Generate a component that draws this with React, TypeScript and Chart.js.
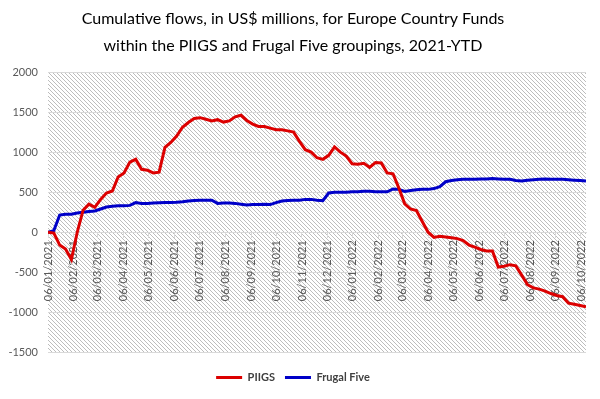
import React, { useEffect, useRef } from 'react';
import { Chart, registerables } from 'chart.js';

Chart.register(...registerables);

const titleLines = [
  'Cumulative flows, in US$ millions, for Europe Country Funds',
  'within the PIIGS and Frugal Five groupings, 2021-YTD',
];

const startDate = '06/01/2021'; // first weekly observation
const seriesNames = ['PIIGS', 'Frugal Five'];

const piigs = [
  0, -10, -160, -210, -340, 0, 275, 350, 310, 410,
  490, 515, 690, 740, 875, 910, 785, 775, 740, 750,
  1060, 1120, 1200, 1310, 1370, 1420, 1430, 1410, 1390, 1405,
  1375, 1390, 1440, 1460, 1395, 1350, 1320, 1320, 1300, 1280,
  1280, 1265, 1250, 1135, 1030, 1000, 930, 910, 960, 1065,
  1000, 950, 855, 850, 860, 810, 870, 865, 740, 730,
  550, 355, 290, 270, 135, 0, -65, -50, -60, -70,
  -80, -105, -160, -185, -215, -235, -235, -435, -425, -405,
  -420, -535, -655, -695, -710, -735, -765, -790, -805, -885,
  -900, -915, -930,
];

const frugalFive = [
  0, 20, 215, 225, 225, 240, 250, 260, 265, 290,
  315, 325, 330, 330, 335, 370, 360, 360, 365, 368,
  370, 372, 375, 380, 390, 395, 398, 400, 400, 360,
  365, 365, 360, 350, 340, 345, 345, 350, 345, 370,
  390, 395, 398, 400, 410, 410, 400, 395, 490, 500,
  500, 500, 505, 505, 510, 510, 505, 505, 505, 540,
  535, 510, 520, 530, 535, 535, 545, 570, 630, 645,
  655, 660, 660, 660, 665, 665, 670, 665, 660, 660,
  645, 640, 650, 655, 660, 665, 660, 660, 660, 655,
  650, 645, 640,
];

const xTickLabels = [
  '06/01/2021', '06/02/2021', '06/03/2021', '06/04/2021', '06/05/2021', '06/06/2021',
  '06/07/2021', '06/08/2021', '06/09/2021', '06/10/2021', '06/11/2021', '06/12/2021',
  '06/01/2022', '06/02/2022', '06/03/2022', '06/04/2022', '06/05/2022', '06/06/2022',
  '06/07/2022', '06/08/2022', '06/09/2022', '06/10/2022',
];

const yMin = -1500;
const yMax = 2000;
const yStep = 500;

function parseDay(s: string): number {
  const [d, m, y] = s.split('/').map(Number);
  return Date.UTC(y, m - 1, d) / 86400000;
}

const day0 = parseDay(startDate);
const weekDays = piigs.map((_, i) => i * 7);
const tickDays = xTickLabels.map((s) => parseDay(s) - day0);
const lastDay = weekDays[weekDays.length - 1];

export default function App() {
  const ref = useRef<HTMLCanvasElement>(null);

  useEffect(() => {
    document.body.style.margin = '0';
    const canvas = ref.current;
    if (!canvas) return;

    const tile = document.createElement('canvas');
    tile.width = 4;
    tile.height = 4;
    const tctx = tile.getContext('2d')!;
    tctx.fillStyle = '#ffffff';
    tctx.fillRect(0, 0, 4, 4);
    tctx.fillStyle = '#bdbdbd';
    for (let i = 0; i < 4; i++) tctx.fillRect(i, i, 1, 1);

    const hatch = {
      id: 'hatch',
      beforeDraw(chart: any) {
        const { ctx, chartArea: a } = chart;
        const pat = ctx.createPattern(tile, 'repeat');
        ctx.save();
        ctx.fillStyle = pat;
        ctx.fillRect(a.left, a.top, a.right - a.left, a.bottom - a.top);
        ctx.restore();
      },
    };

    const tickFont = { family: 'Lato', size: 11 };

    const chart = new Chart(canvas, {
      type: 'line',
      data: {
        datasets: [
          {
            label: seriesNames[0],
            data: piigs.map((v, i) => ({ x: weekDays[i], y: v })),
            borderColor: '#DC0000',
            backgroundColor: '#DC0000',
            borderWidth: 3,
            pointRadius: 0,
            tension: 0,
          },
          {
            label: seriesNames[1],
            data: frugalFive.map((v, i) => ({ x: weekDays[i], y: v })),
            borderColor: '#0000C8',
            backgroundColor: '#0000C8',
            borderWidth: 3,
            pointRadius: 0,
            tension: 0,
          },
        ],
      },
      options: {
        responsive: false,
        animation: false,
        layout: { padding: { left: 0, right: 14, top: 0, bottom: 6 } },
        plugins: {
          title: {
            display: true,
            text: titleLines,
            color: '#000000',
            font: { family: 'Lato', size: 16, weight: 'normal', lineHeight: 27 / 16 },
            padding: { top: 5, bottom: 13 },
          },
          legend: {
            position: 'bottom',
            title: { display: true, text: ' ', font: { size: 8 }, padding: 0 },
            labels: {
              usePointStyle: true,
              pointStyle: 'line',
              pointStyleWidth: 26,
              boxHeight: 11,
              color: '#404040',
              font: { family: 'Lato', size: 11, weight: 'bold' },
              padding: 10,
            },
          },
          tooltip: { enabled: false },
        },
        scales: {
          x: {
            type: 'linear',
            position: { y: 0 },
            min: 0,
            max: lastDay,
            afterBuildTicks: (s: any) => {
              s.ticks = tickDays.map((v) => ({ value: v }));
            },
            ticks: {
              autoSkip: false,
              minRotation: 90,
              maxRotation: 90,
              padding: 3,
              color: '#595959',
              font: tickFont,
              callback: (_v: any, i: number) => xTickLabels[i],
            },
            grid: { drawOnChartArea: false, drawTicks: true, tickLength: 5, color: '#d9d9d9' },
            border: { color: '#d9d9d9' },
          },
          y: {
            min: yMin,
            max: yMax,
            ticks: {
              stepSize: yStep,
              color: '#595959',
              font: tickFont,
              padding: 10,
              callback: (v: any) => String(v),
            },
            grid: { color: '#d9d9d9', drawTicks: false },
            border: { display: false },
            afterFit: (s: any) => {
              s.width = 48;
            },
          },
        },
      },
      plugins: [hatch],
    } as any);

    return () => chart.destroy();
  }, []);

  return (
    <div style={{ position: 'fixed', left: 0, top: 0, width: 600, height: 399, background: '#fff' }}>
      <canvas ref={ref} width={600} height={399} style={{ display: 'block', width: 600, height: 399 }} />
    </div>
  );
}
